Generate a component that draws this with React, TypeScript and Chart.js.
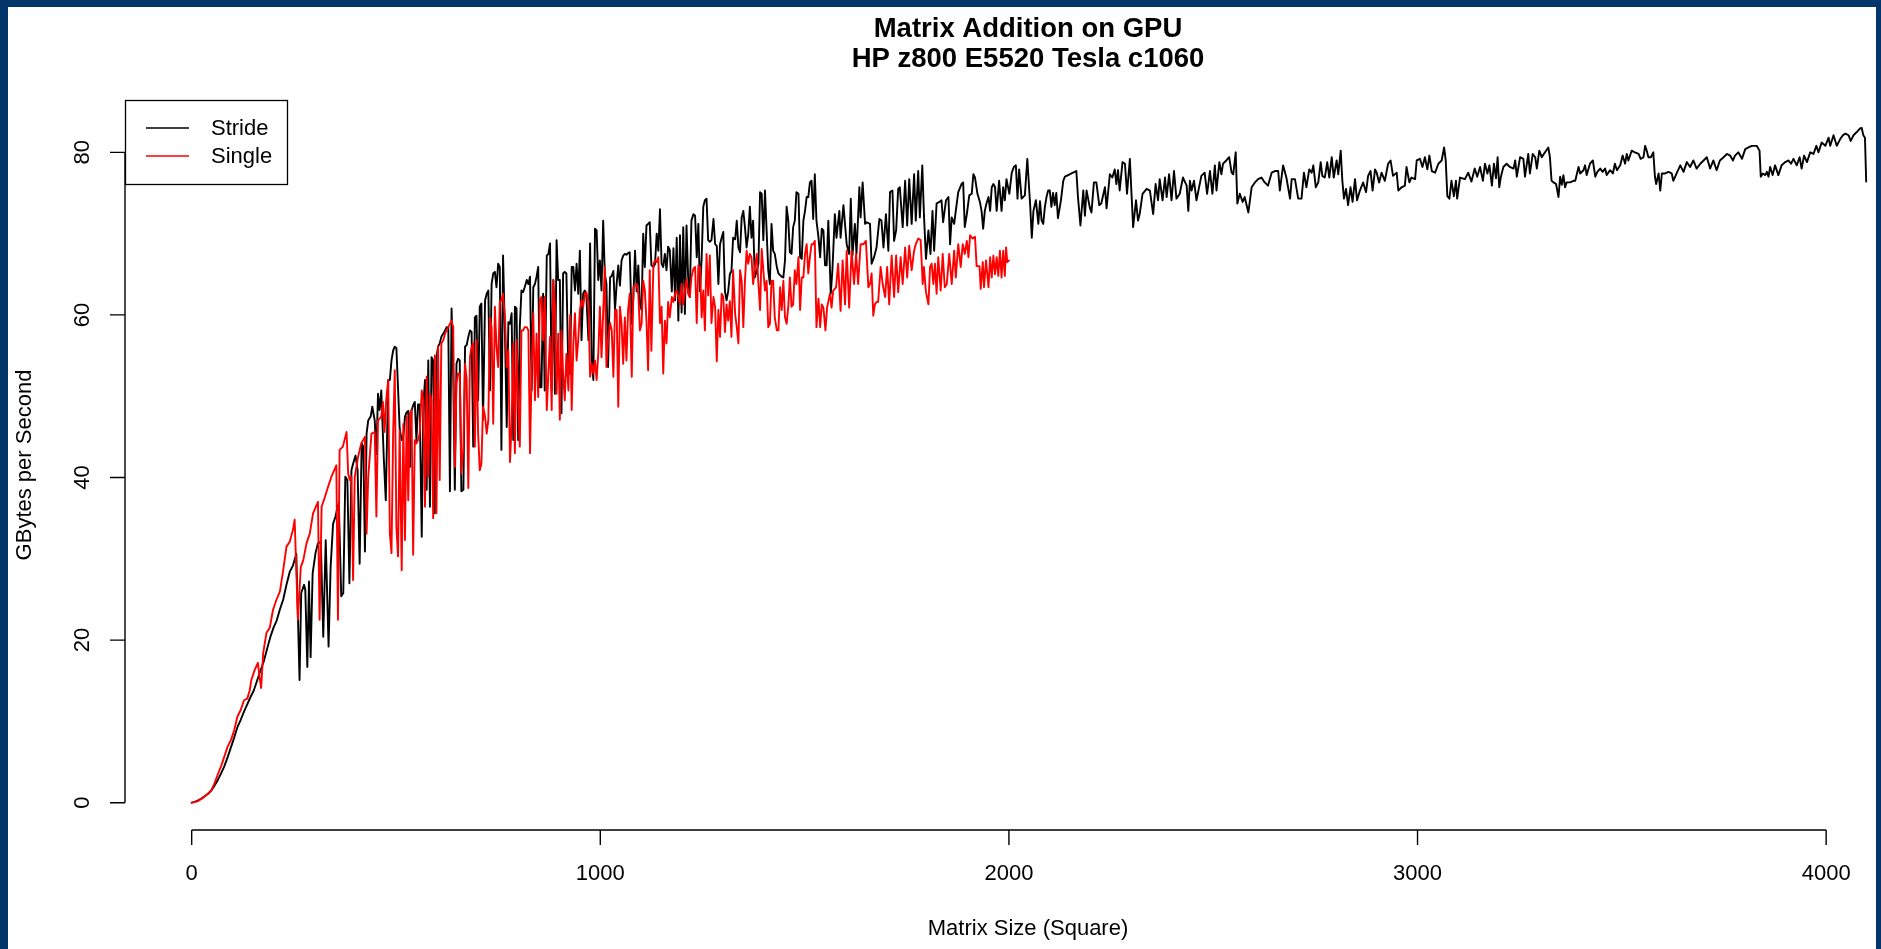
import React, { useEffect, useRef } from "react";
import { Chart, registerables } from "chart.js";

Chart.register(...registerables);

// ---------------- text ----------------
const chartTitle = ["Matrix Addition on GPU", "HP z800 E5520 Tesla c1060"];
const xAxisTitle = "Matrix Size (Square)";
const yAxisTitle = "GBytes per Second";
const xTicks = [0, 1000, 2000, 3000, 4000];
const yTicks = [0, 20, 40, 60, 80];
const seriesNames = ["Stride", "Single"];
const seriesColors = ["#000000", "#ff0000"];

// ---------------- data ----------------
// shared matrix sizes of the dense middle part (both series sampled there)
const denseSizesA = [
  485, 489, 493, 497, 501, 505, 509, 514, 518, 522,
  526, 530, 534, 538, 542, 546, 550, 554, 558, 563,
  567, 571, 575, 579, 583, 587, 591, 595, 599, 603,
  607, 611, 616, 620, 624, 628, 632, 636, 640, 644,
  648, 652, 656, 660, 665, 669, 673, 677, 681, 685,
  689, 693, 697, 701, 705, 709, 713, 718, 722, 726,
  730, 734, 738, 742, 746, 750, 754, 758, 762, 767,
  771, 775, 779, 783, 787, 791, 795, 799, 803, 807,
  811, 815, 820, 824, 828, 832, 836, 840, 844, 848,
  852, 856, 860, 864, 869, 873, 877, 881, 885, 889,
  893, 897, 901, 905, 909, 913, 917, 922, 926, 930,
  934, 938, 942, 946, 950, 954, 958, 962, 966, 971,
  975, 979, 983, 987, 991, 995, 999, 1003, 1007, 1011,
  1015, 1019,
];
const denseSizesB = [
  1024, 1028, 1032, 1036, 1040, 1044, 1048, 1052, 1056, 1060,
  1064, 1068, 1072, 1077, 1081, 1085, 1089, 1093, 1097, 1101,
  1105, 1109, 1113, 1117, 1121, 1125, 1130, 1134, 1138, 1142,
  1146, 1150, 1154, 1158, 1162, 1166, 1170, 1175, 1179, 1183,
  1187, 1191, 1195, 1199, 1203, 1207, 1211, 1215, 1219, 1223,
  1228, 1232, 1236, 1240, 1244, 1248, 1252, 1256, 1260, 1264,
  1268, 1272, 1277, 1281, 1285, 1289, 1293, 1297, 1301, 1305,
  1309, 1313, 1317, 1321, 1325, 1330, 1334, 1338, 1342, 1346,
  1350, 1354, 1358, 1362, 1366, 1370, 1374, 1378, 1383, 1387,
  1391, 1395, 1399, 1403, 1407, 1411, 1415, 1419, 1423, 1427,
  1432, 1436, 1440, 1444, 1448, 1452, 1456, 1460, 1464, 1468,
  1472, 1476, 1480, 1485, 1489, 1493, 1497, 1501, 1505, 1509,
  1513, 1517, 1521, 1525, 1529, 1534,
];

// ----- Stride (black) -----
const strideLeadSizes = [
  0, 8, 16, 24, 32, 40, 48, 56, 64, 72,
  80, 88, 96, 104, 112, 120, 128, 136, 144, 152,
  160, 168, 176, 184, 192, 200, 208, 216, 224, 232,
  240, 248, 256,
  264, 268, 275, 278, 283, 287, 291, 296, 303, 309,
  316, 322, 328, 335, 340, 346, 352, 357, 360, 366,
  371, 376, 381, 386, 391, 395, 401, 406, 411, 416,
  420, 424, 428, 432, 438, 442, 448, 452, 456, 460,
  464, 470, 475, 481,
];
const strideLeadGbps = [
  0, 0.1, 0.3, 0.5, 0.8, 1.1, 1.5, 2.1, 2.8, 3.6,
  4.5, 5.6, 6.8, 8.0, 9.3, 10.2, 11.2, 12.1, 13.0, 13.8,
  15.0, 16.2, 17.3, 18.8, 20.3, 21.5, 22.4, 23.8, 25.0, 26.8,
  28.4, 29.2, 30.6,
  15.1, 25.8, 26.8, 26.2, 16.7, 27.2, 17.9, 28.2, 30.7, 31.9,
  32.1, 20.4, 32.3, 19.2, 29.0, 34.3, 35.2, 36.4, 36.8, 25.4,
  25.8, 40.1, 39.7, 27.0, 40.9, 41.7, 42.7, 40.9, 29.4, 44.2,
  43.8, 30.9, 45.4, 47.0, 47.5, 48.7, 47.0, 42.9, 50.3, 48.3,
  50.7, 42.5, 37.2, 52.0,
];
const strideDenseA = [
  52.0, 54.4, 55.6, 56.1, 55.9, 51.0, 46.0, 44.6, 45.0, 47.5,
  48.0, 48.2, 41.3, 48.2, 48.9, 49.3, 44.6, 49.0, 49.0, 32.7,
  49.0, 52.0, 38.5, 54.4, 36.4, 54.8, 54.4, 35.6, 54.8, 56.1,
  56.5, 57.3, 57.7, 58.1, 58.5, 58.5, 38.3, 60.8, 52.8, 38.5,
  54.0, 54.6, 54.4, 38.3, 38.5, 56.1, 56.3, 57.3, 58.1, 57.9,
  43.8, 59.7, 59.9, 49.5, 61.0, 61.4, 47.1, 61.8, 62.6, 63.0,
  50.7, 63.8, 65.1, 65.3, 63.4, 66.3, 65.9, 43.4, 67.3, 56.9,
  46.2, 59.1, 58.9, 60.2, 44.6, 61.0, 60.8, 44.6, 58.5, 63.0,
  62.8, 63.4, 64.3, 63.8, 64.7, 50.7, 63.4, 63.8, 64.7, 65.9,
  51.1, 51.1, 62.6, 50.7, 67.3, 67.5, 68.8, 50.7, 64.3, 50.3,
  69.2, 64.3, 64.3, 47.9, 65.1, 65.3, 65.1, 52.8, 52.8, 65.9,
  65.9, 63.0, 66.3, 62.6, 67.9, 56.9, 62.6, 63.0, 62.2, 56.9,
  68.8, 54.4, 52.0, 70.6, 70.4, 64.3, 66.7, 63.0, 71.6, 65.1,
  63.8, 53.6,
];
const strideDenseB = [
  64.6, 64.8, 65.4, 60.6, 63.8, 66.1, 63.6, 66.7, 67.3, 67.5,
  67.4, 67.6, 67.7, 58.9, 62.2, 67.9, 62.9, 66.1, 61.3, 60.6,
  70.0, 65.9, 71.0, 71.2, 71.4, 66.1, 65.9, 66.3, 70.0, 67.9,
  73.0, 66.3, 65.9, 67.5, 65.5, 68.4, 68.0, 62.9, 68.2, 61.8,
  69.5, 59.3, 69.8, 60.3, 70.8, 60.1, 71.0, 64.6, 62.2, 71.6,
  72.4, 72.2, 67.1, 71.2, 62.9, 66.9, 73.3, 74.1, 74.3, 69.2,
  69.0, 69.2, 71.8, 68.7, 68.5, 63.8, 68.7, 69.5, 70.2, 62.9,
  61.8, 62.9, 65.0, 65.4, 69.5, 69.3, 71.6, 68.3, 67.7, 72.0,
  72.8, 70.8, 68.3, 69.9, 73.3, 69.5, 71.6, 64.6, 65.4, 66.3,
  75.1, 74.9, 69.2, 75.3, 70.4, 65.5, 63.8, 71.2, 67.9, 67.5,
  65.9, 65.1, 64.9, 64.7, 64.6, 66.7, 73.3, 71.6, 67.7, 67.5,
  70.8, 71.6, 75.1, 74.9, 67.1, 66.9, 71.6, 72.8, 74.5, 74.5,
  76.3, 76.5, 71.8, 77.3, 71.6, 69.5,
];
const strideMidSizes = [
  1538, 1542, 1546, 1550, 1554, 1558, 1564, 1568, 1574, 1578,
  1585, 1588, 1595, 1603, 1609, 1613, 1617, 1623, 1627, 1634,
  1637, 1642, 1648, 1652, 1660, 1664, 1670, 1676, 1683, 1688,
  1693, 1699, 1705, 1709, 1715, 1719, 1724, 1729, 1733, 1740,
  1746, 1751, 1756, 1762, 1768, 1772, 1778, 1782, 1788, 1792,
  1797, 1803, 1808, 1813, 1817, 1823, 1830, 1835, 1839, 1846,
  1852, 1856, 1860, 1866, 1870, 1876, 1884, 1888, 1892, 1897,
  1903, 1909, 1913, 1917, 1923, 1929, 1933, 1937, 1941, 1945,
  1950, 1954, 1958, 1962, 1966, 1970, 1976, 1982, 1986, 1990,
  1994, 2001, 2007, 2012, 2017, 2021, 2025, 2031, 2039, 2045,
  2052, 2056, 2060, 2066, 2072, 2076, 2080, 2084, 2088, 2092,
  2096,
];
const strideMidGbps = [
  67.1, 70.6, 70.4, 66.1, 66.1, 71.6, 62.6, 65.5, 72.4, 69.5,
  72.8, 69.5, 73.5, 68.7, 67.5, 74.3, 67.3, 71.2, 67.5, 75.7,
  72.0, 76.3, 71.2, 71.4, 71.2, 66.3, 67.1, 68.3, 71.8, 71.6,
  68.3, 72.4, 67.9, 75.1, 75.3, 69.1, 70.4, 75.5, 75.7, 70.8,
  76.5, 71.0, 76.7, 71.2, 77.3, 71.6, 77.7, 72.0, 78.4, 72.4,
  66.9, 70.4, 67.5, 72.8, 67.9, 73.7, 73.9, 74.1, 71.4, 74.1,
  74.5, 68.7, 72.0, 71.2, 72.8, 75.1, 76.1, 76.3, 70.8, 72.4,
  74.7, 74.9, 77.3, 76.9, 74.9, 73.9, 72.8, 70.6, 72.8, 73.7,
  74.5, 72.8, 75.7, 76.1, 75.7, 72.8, 76.5, 72.8, 75.7, 74.1,
  76.7, 74.9, 77.5, 78.2, 78.4, 74.3, 77.9, 74.3, 74.7, 79.2,
  73.5, 69.5, 72.8, 74.1, 71.2, 74.0, 71.6, 71.2, 73.3, 74.5,
  75.3,
];
const strideTailSizes = [
  2100, 2104, 2108, 2112, 2116, 2120, 2127, 2133, 2137, 2145,
  2153, 2165, 2169, 2175, 2182, 2186, 2190, 2198, 2202, 2208,
  2214, 2221, 2226, 2235, 2239, 2247, 2253, 2259, 2263, 2267,
  2271, 2278, 2284, 2289, 2296, 2300, 2304, 2311, 2316, 2320,
  2327, 2337, 2345, 2353, 2359, 2365, 2369, 2376, 2382, 2386,
  2392, 2398, 2404, 2410, 2418, 2426, 2435, 2439, 2443, 2447,
  2453, 2459, 2471, 2479, 2485, 2492, 2498, 2504, 2508, 2515,
  2520, 2524, 2532, 2539, 2545, 2549, 2555, 2559, 2565, 2572,
  2577, 2586, 2594, 2602, 2610, 2618, 2626, 2634, 2643, 2651,
  2659, 2663, 2671, 2679, 2688, 2692, 2700, 2708, 2716, 2722,
  2728, 2735, 2741, 2745, 2751, 2757, 2763, 2767, 2773, 2779,
  2784, 2790, 2795, 2802, 2806, 2812, 2816, 2820, 2825, 2830,
  2836, 2841, 2847, 2852, 2859, 2867, 2874, 2879, 2885, 2890,
  2896, 2900, 2906, 2912, 2920, 2928, 2934, 2940, 2949, 2953,
  2961, 2969, 2973, 2980, 2985, 2994, 2998, 3006, 3012, 3018,
  3024, 3029, 3035, 3043, 3051, 3059, 3065, 3069, 3073, 3078,
  3083, 3089, 3094, 3097, 3104, 3116, 3124, 3132, 3140, 3146,
  3153, 3160, 3165, 3171, 3176, 3182, 3187, 3192, 3196, 3200,
  3204, 3210, 3218, 3226, 3235, 3239, 3243, 3251, 3259, 3263,
  3271, 3275, 3282, 3288, 3292, 3298, 3304, 3312, 3320, 3324,
  3328, 3333, 3339, 3345, 3349, 3353, 3357, 3361, 3365, 3373,
  3382, 3386, 3394, 3398, 3406, 3410, 3414, 3422, 3429, 3435,
  3440, 3447, 3453, 3459, 3463, 3471, 3478, 3483, 3488, 3496,
  3502, 3508, 3512, 3516, 3524, 3532, 3541, 3546, 3553, 3557,
  3561, 3565, 3571, 3577, 3581, 3584, 3590, 3594, 3598, 3606,
  3614, 3622, 3626, 3634, 3643, 3651, 3659, 3667, 3675, 3683,
  3692, 3700, 3708, 3716, 3724, 3732, 3740, 3749, 3757, 3765,
  3772, 3777, 3785, 3794, 3802, 3810, 3818, 3830, 3837, 3840,
  3845, 3851, 3855, 3859, 3863, 3869, 3875, 3883, 3891, 3900,
  3908, 3914, 3920, 3928, 3935, 3940, 3946, 3953, 3961, 3969,
  3976, 3981, 3989, 3998, 4006, 4010, 4018, 4026, 4034, 4041,
  4047, 4055, 4060, 4067, 4075, 4082, 4087, 4091, 4095, 4098,
];
const strideTailGbps = [
  75.3, 73.3, 75.0, 73.5, 75.0, 71.9, 74.0, 76.5, 77.0, 77.2,
  77.4, 77.7, 74.5, 71.0, 75.3, 72.2, 75.3, 73.2, 72.6, 76.3,
  76.3, 73.5, 73.7, 75.7, 73.1, 77.3, 76.9, 77.9, 76.1, 77.8,
  75.3, 78.8, 78.6, 74.9, 79.2, 74.9, 70.8, 74.1, 71.6, 72.4,
  74.9, 75.5, 75.3, 72.4, 76.1, 74.1, 76.7, 74.1, 76.9, 74.5,
  77.3, 74.1, 77.7, 74.3, 74.9, 76.9, 75.9, 72.8, 76.5, 75.3,
  76.5, 74.1, 77.1, 77.5, 74.9, 77.7, 74.9, 78.4, 75.3, 78.8,
  77.3, 78.6, 79.0, 79.4, 77.5, 77.3, 80.0, 73.7, 74.9, 73.9,
  74.5, 72.6, 75.7, 76.3, 76.7, 76.9, 76.3, 75.9, 77.5, 77.7,
  77.7, 75.3, 78.4, 76.9, 74.3, 76.7, 76.7, 74.3, 74.3, 77.5,
  75.7, 77.9, 77.5, 78.4, 75.7, 76.3, 78.8, 77.1, 76.9, 78.8,
  76.9, 79.4, 76.9, 79.0, 77.3, 80.2, 76.5, 74.3, 75.5, 73.5,
  75.7, 73.9, 76.7, 74.1, 75.3, 76.3, 75.1, 77.1, 77.7, 75.3,
  77.9, 77.5, 76.3, 77.5, 76.5, 78.6, 79.0, 77.1, 77.5, 75.3,
  75.7, 75.9, 78.2, 76.3, 76.9, 76.7, 79.0, 79.2, 78.2, 79.4,
  77.9, 79.6, 77.7, 77.5, 78.6, 79.0, 80.6, 79.0, 74.6, 74.3,
  76.5, 74.6, 76.5, 74.3, 76.9, 76.7, 77.5, 76.4, 78.0, 77.0,
  78.2, 76.5, 78.6, 77.4, 78.4, 75.9, 78.6, 76.8, 79.4, 75.7,
  77.0, 78.2, 78.6, 78.2, 78.0, 79.0, 77.0, 79.4, 79.2, 77.0,
  79.8, 77.4, 79.8, 79.4, 78.0, 80.2, 79.4, 80.0, 80.6, 79.4,
  76.5, 76.3, 76.1, 74.5, 77.0, 76.0, 77.2, 75.7, 76.3, 76.3,
  76.5, 76.5, 78.2, 77.4, 77.8, 78.4, 77.2, 78.6, 79.0, 77.0,
  77.6, 78.0, 77.6, 78.0, 77.2, 77.8, 77.4, 78.6, 77.8, 78.4,
  79.6, 78.6, 79.8, 79.0, 80.2, 80.0, 79.8, 79.2, 79.4, 80.8,
  80.2, 79.4, 79.4, 80.0, 77.0, 76.1, 77.4, 75.3, 77.4, 77.4,
  77.6, 77.4, 76.5, 77.4, 78.4, 77.6, 78.8, 78.2, 79.0, 78.0,
  78.6, 79.0, 79.4, 78.0, 79.0, 77.8, 79.0, 79.4, 79.8, 79.6,
  79.0, 79.6, 80.0, 79.2, 80.4, 80.6, 80.8, 80.8, 80.2, 77.0,
  77.4, 77.2, 77.6, 77.0, 78.2, 77.2, 78.4, 77.2, 78.4, 78.8,
  79.0, 78.6, 79.2, 78.4, 79.4, 78.0, 79.6, 78.8, 80.0, 79.8,
  80.8, 80.0, 81.2, 80.8, 81.8, 80.8, 82.1, 80.8, 81.6, 82.1,
  82.3, 82.1, 81.4, 82.1, 82.5, 82.9, 83.0, 82.1, 81.8, 76.4,
];

// ----- Single (red) -----
const singleLeadSizes = [
  0, 8, 16, 24, 32, 40, 48, 56, 64, 72,
  80, 88, 96, 104, 112, 120, 128, 136, 142, 146,
  154, 162, 166, 170, 175, 183, 191, 199, 207, 216,
  224, 232, 240, 248, 252, 260, 267, 273, 281, 289,
  297, 309, 313, 318, 326, 334, 342, 354, 358, 362,
  370, 379, 383, 387, 391, 395, 399, 407, 415, 424,
  428, 432, 440, 448, 452, 456, 464, 468, 472, 476,
  481,
];
const singleLeadGbps = [
  0, 0.1, 0.2, 0.5, 0.8, 1.1, 1.5, 2.4, 3.5, 4.5,
  5.7, 6.9, 7.7, 8.9, 10.6, 11.4, 12.6, 12.8, 13.8, 15.1,
  16.3, 17.2, 15.5, 14.1, 18.4, 20.9, 21.5, 23.7, 24.9, 26.0,
  28.6, 31.5, 32.1, 33.6, 34.8, 22.5, 29.0, 29.8, 31.9, 33.1,
  35.6, 37.0, 22.5, 36.4, 37.6, 38.9, 40.1, 41.5, 22.5, 43.4,
  43.8, 45.6, 40.5, 39.7, 40.1, 27.4, 40.0, 42.5, 44.2, 45.0,
  33.1, 40.0, 45.4, 45.6, 35.2, 47.0, 47.5, 49.3, 45.6, 49.5,
  52.0,
];
const singleDenseA = [
  33.1, 30.7, 45.4, 53.2, 33.9, 30.3, 45.8, 28.6, 46.6, 32.3,
  47.5, 37.2, 47.9, 48.3, 30.5, 44.6, 44.2, 44.6, 45.4, 50.7,
  49.5, 36.4, 52.4, 40.1, 50.3, 49.5, 35.0, 55.0, 35.6, 56.1,
  39.7, 56.5, 56.9, 57.7, 58.1, 58.5, 58.9, 59.3, 58.5, 41.3,
  51.6, 52.8, 52.8, 40.5, 43.8, 54.0, 52.0, 38.7, 54.8, 56.1,
  56.5, 43.8, 56.9, 45.4, 40.9, 41.7, 48.7, 47.5, 45.4, 47.1,
  59.7, 58.5, 46.6, 61.0, 56.1, 53.6, 61.6, 61.8, 62.6, 59.3,
  53.6, 55.6, 41.9, 46.6, 56.5, 43.0, 56.9, 49.1, 43.8, 58.1,
  58.1, 58.5, 58.5, 58.1, 43.0, 53.2, 60.2, 49.5, 57.7, 49.9,
  61.8, 62.2, 56.9, 62.2, 48.3, 52.8, 57.3, 48.3, 64.3, 61.0,
  50.3, 57.7, 47.1, 58.1, 52.8, 49.5, 55.2, 50.7, 60.0, 48.3,
  56.5, 60.2, 54.4, 56.9, 60.6, 61.8, 61.0, 62.6, 62.8, 61.4,
  52.4, 54.0, 52.8, 54.4, 52.0, 55.2, 61.0, 54.8, 60.2, 65.9,
  53.6, 56.9,
];
const singleDenseB = [
  59.0, 58.1, 52.4, 60.6, 60.6, 48.7, 61.0, 58.9, 54.0, 59.7,
  54.4, 60.6, 62.6, 52.4, 63.4, 63.6, 63.8, 62.6, 58.1, 58.9,
  64.2, 63.0, 59.3, 53.2, 65.5, 55.6, 66.3, 66.7, 66.5, 67.1,
  59.0, 61.0, 52.8, 59.3, 56.5, 61.6, 59.7, 62.2, 61.6, 62.6,
  63.0, 62.2, 61.3, 63.8, 61.3, 63.0, 64.4, 62.6, 62.2, 64.6,
  65.7, 65.9, 59.0, 66.1, 65.9, 59.7, 63.0, 58.1, 67.5, 62.4,
  67.3, 59.0, 62.2, 61.0, 54.3, 60.6, 57.3, 62.6, 62.2, 57.9,
  61.3, 59.3, 61.7, 57.3, 65.5, 60.1, 58.5, 56.5, 65.5, 64.2,
  58.5, 64.2, 67.9, 66.3, 67.5, 67.1, 63.8, 65.7, 67.5, 63.8,
  60.6, 68.1, 65.5, 63.0, 64.2, 58.5, 58.9, 64.2, 64.2, 59.7,
  58.1, 58.1, 63.4, 60.6, 64.2, 59.7, 58.9, 61.0, 64.6, 61.0,
  61.3, 65.5, 63.8, 67.1, 60.6, 64.6, 64.6, 67.5, 68.7, 65.1,
  67.1, 68.7, 68.7, 69.1, 58.5, 62.0,
];
const singleEndSizes = [
  1538, 1542, 1546, 1551, 1555, 1562, 1566, 1570, 1577, 1582,
  1588, 1593, 1599, 1603, 1609, 1615, 1621, 1626, 1631, 1637,
  1644, 1650, 1656, 1660, 1664, 1668, 1672, 1676, 1680, 1686,
  1691, 1697, 1702, 1707, 1713, 1719, 1724, 1729, 1735, 1740,
  1746, 1751, 1756, 1762, 1768, 1772, 1778, 1784, 1789, 1792,
  1797, 1803, 1807, 1811, 1815, 1819, 1823, 1827, 1833, 1838,
  1843, 1848, 1854, 1860, 1866, 1870, 1876, 1882, 1887, 1892,
  1897, 1901, 1905, 1911, 1917, 1921, 1928, 1931, 1936, 1939,
  1944, 1950, 1954, 1958, 1962, 1966, 1970, 1974, 1978, 1982,
  1986, 1990, 1993, 1996, 2000,
];
const singleEndGbps = [
  58.5, 61.3, 60.9, 58.1, 60.9, 62.6, 60.9, 63.0, 63.4, 66.3,
  60.5, 66.7, 61.3, 67.9, 60.9, 67.9, 63.8, 67.5, 63.8, 68.7,
  68.7, 69.1, 63.4, 63.8, 65.1, 59.9, 61.3, 61.6, 61.6, 65.9,
  63.8, 62.2, 65.9, 61.3, 67.3, 62.2, 67.3, 62.8, 67.1, 63.8,
  68.3, 64.6, 68.5, 65.5, 67.9, 68.7, 69.4, 69.2, 63.8, 65.9,
  62.8, 61.3, 65.9, 66.3, 63.8, 66.3, 62.6, 67.1, 63.0, 67.5,
  63.4, 63.8, 67.5, 63.8, 67.9, 64.6, 68.7, 65.9, 68.7, 67.5,
  69.1, 67.1, 69.8, 69.4, 69.6, 66.0, 66.0, 63.2, 66.5, 63.4,
  66.7, 63.4, 67.1, 64.6, 67.3, 65.0, 67.1, 64.8, 67.9, 64.6,
  67.9, 64.8, 68.3, 66.5, 66.7,
];

const strideSizes = [...strideLeadSizes, ...denseSizesA, ...denseSizesB, ...strideMidSizes, ...strideTailSizes];
const strideGbps = [...strideLeadGbps, ...strideDenseA, ...strideDenseB, ...strideMidGbps, ...strideTailGbps];
const singleSizes = [...singleLeadSizes, ...denseSizesA, ...denseSizesB, ...singleEndSizes];
const singleGbps = [...singleLeadGbps, ...singleDenseA, ...singleDenseB, ...singleEndGbps];

// ---------------- layout ----------------
const W = 1881;
const H = 949;
const FONT = '"Liberation Sans", Arial, Helvetica, sans-serif';
const PLOT = { left: 125, top: 99, right: 1876, bottom: 830 };
const X_RANGE = { min: -163.2, max: 4122 };
const Y_RANGE = { min: -3.36, max: 86.56 };

function toPoints(xs: number[], ys: number[]) {
  const n = Math.min(xs.length, ys.length);
  const out: { x: number; y: number }[] = [];
  for (let i = 0; i < n; i++) out.push({ x: xs[i], y: ys[i] });
  return out;
}

const rStylePlugin = {
  id: "rStyle",
  afterDraw(chart: any) {
    const { ctx, chartArea, scales } = chart;
    const xs = scales.x;
    const ys = scales.y;
    ctx.save();
    ctx.strokeStyle = "#000";
    ctx.fillStyle = "#000";
    ctx.lineWidth = 1.4;

    // x axis
    const axisY = chartArea.bottom;
    ctx.beginPath();
    ctx.moveTo(xs.getPixelForValue(xTicks[0]), axisY);
    ctx.lineTo(xs.getPixelForValue(xTicks[xTicks.length - 1]), axisY);
    for (const t of xTicks) {
      const px = xs.getPixelForValue(t);
      ctx.moveTo(px, axisY);
      ctx.lineTo(px, axisY + 15);
    }
    ctx.stroke();
    ctx.font = `22px ${FONT}`;
    ctx.textAlign = "center";
    ctx.textBaseline = "middle";
    for (const t of xTicks) ctx.fillText(String(t), xs.getPixelForValue(t), axisY + 44);

    // y axis
    const axisX = chartArea.left;
    ctx.beginPath();
    ctx.moveTo(axisX, ys.getPixelForValue(yTicks[0]));
    ctx.lineTo(axisX, ys.getPixelForValue(yTicks[yTicks.length - 1]));
    for (const t of yTicks) {
      const py = ys.getPixelForValue(t);
      ctx.moveTo(axisX, py);
      ctx.lineTo(axisX - 15, py);
    }
    ctx.stroke();
    for (const t of yTicks) {
      ctx.save();
      ctx.translate(axisX - 42, ys.getPixelForValue(t));
      ctx.rotate(-Math.PI / 2);
      ctx.fillText(String(t), 0, 0);
      ctx.restore();
    }

    // axis titles
    const midX = 1028;
    ctx.fillText(xAxisTitle, midX, 929);
    ctx.save();
    ctx.translate(25, 465);
    ctx.rotate(-Math.PI / 2);
    ctx.fillText(yAxisTitle, 0, 0);
    ctx.restore();

    // main title
    ctx.font = `bold 27.5px ${FONT}`;
    ctx.textBaseline = "alphabetic";
    ctx.fillText(chartTitle[0], midX, 37);
    ctx.fillText(chartTitle[1], midX, 67);

    // legend
    const lx = 125.5, ly = 100.5, lw = 162, lh = 84;
    ctx.fillStyle = "#fff";
    ctx.fillRect(lx, ly, lw, lh);
    ctx.lineWidth = 1.3;
    ctx.strokeStyle = "#000";
    ctx.strokeRect(lx, ly, lw, lh);
    ctx.font = `22px ${FONT}`;
    ctx.textAlign = "left";
    ctx.textBaseline = "middle";
    const rows = [128, 156];
    chart.data.datasets.forEach((ds: any, i: number) => {
      ctx.strokeStyle = seriesColors[i];
      ctx.lineWidth = 1.6;
      ctx.beginPath();
      ctx.moveTo(146, rows[i]);
      ctx.lineTo(189, rows[i]);
      ctx.stroke();
      ctx.fillStyle = "#000";
      ctx.fillText(ds.label, 211, rows[i] + 1);
    });
    ctx.restore();
  },
};

export default function App() {
  const ref = useRef<HTMLCanvasElement>(null);
  useEffect(() => {
    document.body.style.margin = "0";
    const canvas = ref.current!;
    const chart = new Chart(canvas, {
      type: "line",
      data: {
        datasets: [
          {
            label: seriesNames[0],
            data: toPoints(strideSizes, strideGbps),
            borderColor: seriesColors[0],
            backgroundColor: seriesColors[0],
            borderWidth: 1.9,
            pointRadius: 0,
            tension: 0,
            fill: false,
            borderJoinStyle: "round",
            borderCapStyle: "round",
            order: 1,
          },
          {
            label: seriesNames[1],
            data: toPoints(singleSizes, singleGbps),
            borderColor: seriesColors[1],
            backgroundColor: seriesColors[1],
            borderWidth: 1.9,
            pointRadius: 0,
            tension: 0,
            fill: false,
            borderJoinStyle: "round",
            borderCapStyle: "round",
            order: 0,
          },
        ],
      },
      options: {
        responsive: false,
        maintainAspectRatio: false,
        devicePixelRatio: 1,
        animation: false,
        events: [],
        layout: {
          padding: { left: PLOT.left, top: PLOT.top, right: W - PLOT.right, bottom: H - PLOT.bottom },
        },
        scales: {
          x: { type: "linear", min: X_RANGE.min, max: X_RANGE.max, display: false },
          y: { type: "linear", min: Y_RANGE.min, max: Y_RANGE.max, display: false },
        },
        plugins: {
          legend: { display: false },
          title: { display: false },
          tooltip: { enabled: false },
        },
      },
      plugins: [rStylePlugin],
    } as any);
    return () => chart.destroy();
  }, []);

  return (
    <div style={{ position: "relative", width: W, height: H, background: "#02366b", overflow: "hidden" }}>
      <div style={{ position: "absolute", left: 8, top: 7, width: 1868, height: 942, background: "#ffffff" }} />
      <canvas
        ref={ref}
        width={W}
        height={H}
        style={{ position: "absolute", left: 0, top: 0, width: W, height: H }}
      />
    </div>
  );
}
